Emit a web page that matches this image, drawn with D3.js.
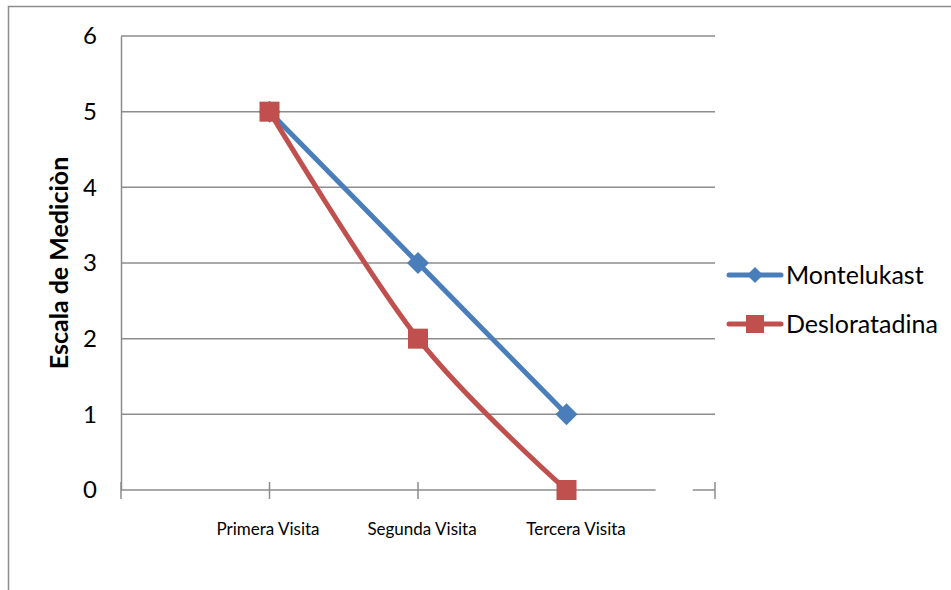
<!DOCTYPE html>
<html>
<head>
<meta charset="utf-8">
<script src="https://cdn.jsdelivr.net/npm/d3@7/dist/d3.min.js"></script>
<style>
  html, body { margin: 0; padding: 0; background: #fff; }
  svg { display: block; font-family: Lato, "Open Sans", sans-serif; }
</style>
</head>
<body>
<svg id="chart" width="951" height="590"></svg>
<script>
// Visit categories and the score for each treatment
const categories = ["Primera Visita", "Segunda Visita", "Tercera Visita"];
const montelukast = [5, 3, 1];
const desloratadina = [5, 2, 0];
const seriesNames = ["Montelukast", "Desloratadina"];
const yTicks = [0, 1, 2, 3, 4, 5, 6];
const yTitle = "Escala de Mediciòn";

const svg = d3.select("#chart");
const W = 951, H = 590;
const plot = { left: 121, right: 715, top: 36, bottom: 490 };

// Chart frame
svg.append("rect")
  .attr("x", 8.5).attr("y", 6.5)
  .attr("width", W + 10).attr("height", H + 10)
  .attr("fill", "#fff").attr("stroke", "#8c8c8c").attr("stroke-width", 1.5);

// Category slots run from -1 to 3 so the points sit between the end ticks
const x = d3.scaleLinear().domain([-1, categories.length]).range([plot.left, plot.right]);
const y = d3.scaleLinear().domain([0, 6]).range([plot.bottom, plot.top]);

const gridColor = "#8c8c8c";

// Horizontal gridlines
svg.append("g").selectAll("line")
  .data(yTicks.filter(d => d > 0))
  .join("line")
  .attr("x1", plot.left).attr("x2", plot.right)
  .attr("y1", d => y(d)).attr("y2", d => y(d))
  .attr("stroke", gridColor).attr("stroke-width", 1.5);

// Value axis
const yAxis = d3.axisLeft(y).tickValues(yTicks).tickFormat(d3.format("d")).tickSize(0).tickPadding(24);
const yg = svg.append("g").attr("transform", `translate(${plot.left},0)`).call(yAxis);
yg.select(".domain").attr("stroke", gridColor).attr("stroke-width", 1.5);
yg.selectAll("text").attr("font-size", 24).attr("fill", "#000")
  .attr("font-family", "Lato, sans-serif");

// Category axis: line and tick marks
const tickIdx = d3.range(-1, categories.length + 1);
const xg = svg.append("g");
xg.append("line")
  .attr("x1", plot.left).attr("x2", plot.right)
  .attr("y1", y(0)).attr("y2", y(0))
  .attr("stroke", gridColor).attr("stroke-width", 1.5);
xg.selectAll("line.tick")
  .data(tickIdx)
  .join("line").attr("class", "tick")
  .attr("x1", d => x(d)).attr("x2", d => x(d))
  .attr("y1", y(0) - 8).attr("y2", y(0) + 9)
  .attr("stroke", gridColor).attr("stroke-width", 1.5);
// break in the axis line near its right end
xg.append("rect")
  .attr("x", x(2.6)).attr("y", y(0) - 3)
  .attr("width", x(2.85) - x(2.6)).attr("height", 6)
  .attr("fill", "#fff");

// Category labels
svg.append("g").selectAll("text")
  .data(categories)
  .join("text")
  .attr("x", (d, i) => x(i) - 1.5 + i * 5.5)
  .attr("y", 535)
  .attr("text-anchor", "middle")
  .attr("font-size", 17)
  .attr("fill", "#000")
  .text(d => d);

// Axis title
svg.append("text")
  .attr("transform", `translate(68,${(plot.top + plot.bottom) / 2}) rotate(-90)`)
  .attr("text-anchor", "middle")
  .attr("font-size", 25)
  .attr("font-weight", "bold")
  .attr("fill", "#000")
  .text(yTitle);

const colors = ["#4a7ebb", "#c0504d"];
const seriesData = [montelukast, desloratadina];

const line = d3.line()
  .x((d, i) => x(i))
  .y(d => y(d))
  .curve(d3.curveCardinal.tension(0));

const diamond = s => `M0,${-s}L${s},0L0,${s}L${-s},0Z`;

// Lines
seriesData.forEach((vals, k) => {
  svg.append("path")
    .datum(vals)
    .attr("d", line)
    .attr("fill", "none")
    .attr("stroke", colors[k])
    .attr("stroke-width", 5)
    .attr("stroke-linejoin", "round")
    .attr("stroke-linecap", "round");
});

// Markers
svg.append("g").selectAll("path")
  .data(montelukast)
  .join("path")
  .attr("transform", (d, i) => `translate(${x(i)},${y(d)})`)
  .attr("d", diamond(11))
  .attr("fill", colors[0]);

svg.append("g").selectAll("rect")
  .data(desloratadina)
  .join("rect")
  .attr("x", (d, i) => x(i) - 10)
  .attr("y", d => y(d) - 10)
  .attr("width", 20).attr("height", 20)
  .attr("fill", colors[1]);

// Legend
const legend = svg.append("g").attr("transform", "translate(727,275)");
seriesNames.forEach((name, k) => {
  const g = legend.append("g").attr("transform", `translate(0,${k * 49})`);
  g.append("line")
    .attr("x1", 2).attr("x2", 54).attr("y1", 0).attr("y2", 0)
    .attr("stroke", colors[k]).attr("stroke-width", 5).attr("stroke-linecap", "round");
  if (k === 0) {
    g.append("path").attr("transform", "translate(28,0)").attr("d", diamond(8)).attr("fill", colors[k]);
  } else {
    g.append("rect").attr("x", 19).attr("y", -9).attr("width", 18).attr("height", 18).attr("fill", colors[k]);
  }
  g.append("text")
    .attr("x", 59).attr("y", 0).attr("dy", "0.35em")
    .attr("font-size", 25)
    .attr("fill", "#000")
    .text(name);
});
</script>
</body>
</html>
